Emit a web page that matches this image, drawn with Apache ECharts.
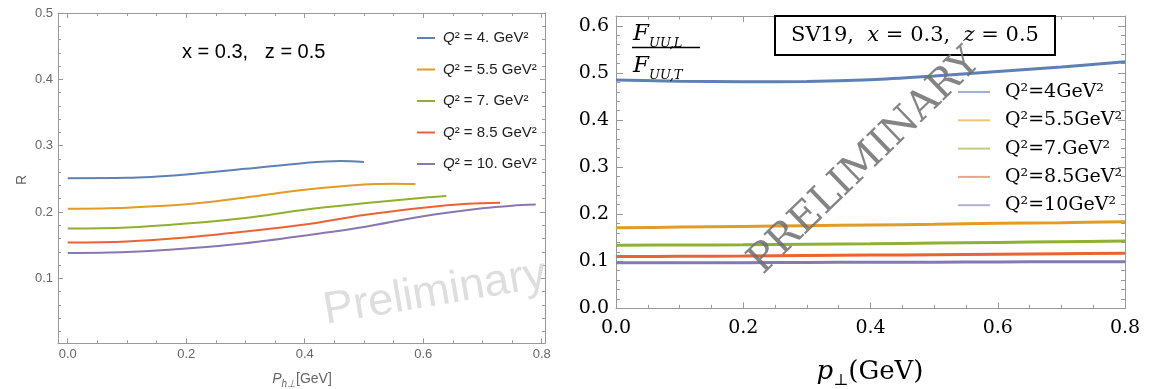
<!DOCTYPE html>
<html><head><meta charset="utf-8">
<script src="https://cdn.jsdelivr.net/npm/echarts@6/dist/echarts.min.js"></script>
<style>html,body{margin:0;padding:0;background:#fff}#c{width:1157px;height:389px}</style>
</head><body><div id="c"></div>
<script>
// ---------------- data ----------------
const seriesColors = ['#5E81B5', '#E19C24', '#8FB032', '#EB6235', '#8778B3'];

// Left panel: R vs P_h_perp
const leftNames = ['Q² = 4. GeV²', 'Q² = 5.5 GeV²', 'Q² = 7. GeV²', 'Q² = 8.5 GeV²', 'Q² = 10. GeV²'];
const leftQ4x  = [0, 0.1, 0.2, 0.3, 0.4, 0.46, 0.5];
const leftQ4y  = [0.251, 0.2515, 0.2565, 0.265, 0.274, 0.277, 0.2755];
const leftQ55x = [0, 0.1, 0.2, 0.3, 0.4, 0.5, 0.55, 0.587];
const leftQ55y = [0.205, 0.2065, 0.2115, 0.222, 0.2335, 0.2415, 0.2425, 0.242];
const leftQ7x  = [0, 0.1, 0.2, 0.3, 0.4, 0.5, 0.6, 0.639];
const leftQ7y  = [0.175, 0.1765, 0.1825, 0.191, 0.2035, 0.213, 0.2215, 0.224];
const leftQ85x = [0, 0.1, 0.2, 0.3, 0.4, 0.5, 0.6, 0.675, 0.73];
const leftQ85y = [0.154, 0.1555, 0.1615, 0.1705, 0.181, 0.1955, 0.2065, 0.2125, 0.214];
const leftQ10x = [0, 0.1, 0.2, 0.3, 0.4, 0.5, 0.6, 0.7, 0.75, 0.79];
const leftQ10y = [0.138, 0.1395, 0.145, 0.153, 0.1645, 0.1775, 0.1935, 0.2055, 0.2095, 0.2112];

// Right panel: F_UU,L / F_UU,T vs p_perp
const rightNames = ['Q²=4GeV²', 'Q²=5.5GeV²', 'Q²=7.GeV²', 'Q²=8.5GeV²', 'Q²=10GeV²'];
const rightX   = [0, 0.1, 0.2, 0.3, 0.4, 0.5, 0.6, 0.7, 0.8];
const rightQ4  = [0.485, 0.4825, 0.4815, 0.482, 0.4855, 0.4935, 0.503, 0.5125, 0.524];
const rightQ55 = [0.171, 0.1725, 0.174, 0.1755, 0.177, 0.1785, 0.1805, 0.182, 0.184];
const rightQ7  = [0.134, 0.1345, 0.135, 0.136, 0.137, 0.1385, 0.14, 0.1415, 0.143];
const rightQ85 = [0.110, 0.1105, 0.111, 0.112, 0.113, 0.114, 0.115, 0.116, 0.117];
const rightQ10 = [0.097, 0.097, 0.097, 0.0975, 0.098, 0.098, 0.0985, 0.099, 0.099];

// tick labels
const leftXTicks  = [0, 0.2, 0.4, 0.6, 0.8];
const leftYTicks  = [0.1, 0.2, 0.3, 0.4, 0.5];
const rightXTicks = [0, 0.2, 0.4, 0.6, 0.8];
const rightYTicks = [0, 0.1, 0.2, 0.3, 0.4, 0.5, 0.6];

// ---------------- build ----------------
function steps(lo, hi, step) {
  const out = [];
  const n = Math.round((hi - lo) / step);
  for (let i = 0; i <= n; i++) out.push(+(lo + i * step).toFixed(4));
  return out;
}
const zip = (xs, ys) => xs.map((x, i) => [x, ys[i]]);

function frameAxes(gridIndex, isX, min, max, major, minor, o) {
  const pos = isX ? ['bottom', 'top'] : ['left', 'right'];
  const base = {
    type: 'value', gridIndex, min, max, splitLine: { show: false }, scale: true,
  };
  const axes = [];
  pos.forEach((p, k) => {
    axes.push(Object.assign({}, base, {
      position: p,
      axisLine: { show: true, onZero: false, lineStyle: { color: o.lineColor, width: 1 } },
      axisTick: { show: true, inside: true, length: o.majorLen, customValues: major, lineStyle: { color: o.lineColor } },
      axisLabel: k === 0 ? Object.assign({ show: true, customValues: major, formatter: v => (+v).toFixed(1) }, o.label) : { show: false },
    }));
    axes.push(Object.assign({}, base, {
      position: p,
      axisLine: { show: false, onZero: false },
      axisTick: { show: true, inside: true, length: o.minorLen, customValues: minor, lineStyle: { color: o.lineColor } },
      axisLabel: { show: false },
    }));
  });
  return axes;
}

const leftLabel = { color: '#666', fontSize: 13, fontFamily: 'Liberation Sans' };
const rightLabel = { color: '#000', fontSize: 19, fontFamily: 'DejaVu Serif' };

const xAxes = [].concat(
  frameAxes(0, true, -0.0164, 0.8056, leftXTicks, steps(0, 0.8, 0.05), { lineColor: '#999', majorLen: 5, minorLen: 3, label: Object.assign({ margin: 5 }, leftLabel) }),
  frameAxes(1, true, 0, 0.8, rightXTicks, steps(0, 0.8, 0.05), { lineColor: '#999', majorLen: 6, minorLen: 3.5, label: Object.assign({ margin: 10 }, rightLabel) })
);
const yAxes = [].concat(
  frameAxes(0, false, 0.002, 0.5, leftYTicks, steps(0.02, 0.5, 0.02), { lineColor: '#999', majorLen: 5, minorLen: 3, label: Object.assign({ margin: 5 }, leftLabel) }),
  frameAxes(1, false, 0, 0.621, rightYTicks, steps(0, 0.62, 0.02), { lineColor: '#999', majorLen: 7, minorLen: 4, label: Object.assign({ margin: 7 }, rightLabel) })
);

const leftData = [zip(leftQ4x, leftQ4y), zip(leftQ55x, leftQ55y), zip(leftQ7x, leftQ7y), zip(leftQ85x, leftQ85y), zip(leftQ10x, leftQ10y)];
const rightData = [rightQ4, rightQ55, rightQ7, rightQ85, rightQ10].map(ys => zip(rightX, ys));

const series = [];
leftData.forEach((d, i) => series.push({
  name: leftNames[i], type: 'line', xAxisIndex: 0, yAxisIndex: 0, data: d,
  smooth: 0.35, showSymbol: false, symbol: 'none',
  lineStyle: { color: seriesColors[i], width: 2 }, itemStyle: { color: seriesColors[i] },
  animation: false, z: 3
}));
rightData.forEach((d, i) => series.push({
  name: rightNames[i], type: 'line', xAxisIndex: 4, yAxisIndex: 4, data: d,
  smooth: 0.35, showSymbol: false, symbol: 'none',
  lineStyle: { color: seriesColors[i], width: 3 }, itemStyle: { color: seriesColors[i] },
  animation: false, z: 3
}));

const option = {
  backgroundColor: '#fff',
  animation: false,
  grid: [
    { left: 58, top: 13, right: 612, bottom: 45.7, containLabel: false },
    { left: 616, top: 16, right: 32, bottom: 80.7, containLabel: false }
  ],
  xAxis: xAxes,
  yAxis: yAxes,
  legend: [
    {
      data: leftNames, orient: 'vertical', left: 412, top: 25, icon: 'rect',
      itemWidth: 18, itemHeight: 2, itemGap: 15.5,
      formatter: n => '{q|Q}{t|' + n.slice(1) + '}',
      textStyle: {
        color: '#222', fontFamily: 'Liberation Sans', fontSize: 15, lineHeight: 16, padding: [0, 0, 0, 3],
        rich: { q: { fontStyle: 'italic', fontSize: 15, fontFamily: 'Liberation Sans', color: '#222' },
                t: { fontSize: 15, fontFamily: 'Liberation Sans', color: '#222' } }
      }
    },
    {
      data: rightNames, orient: 'vertical', left: 953, top: 77, icon: 'rect',
      itemWidth: 32, itemHeight: 2, itemGap: 8.3, itemStyle: { opacity: 0.6 },
      textStyle: { color: '#000', fontFamily: 'DejaVu Serif', fontSize: 19, lineHeight: 20, padding: [0, 0, 0, 10] }
    }
  ],
  series,
  graphic: [
    { type: 'text', x: 182, y: 52, z: 10, style: { text: 'x = 0.3,   z = 0.5', fill: '#000', font: '20px "Liberation Sans"', textAlign: 'left', textVerticalAlign: 'middle' } },
    { type: 'text', x: 22, y: 180, rotation: Math.PI / 2, z: 10, style: { text: 'R', fill: '#666', font: '14px "Liberation Sans"', textAlign: 'center', textVerticalAlign: 'middle' } },
    { type: 'text', x: 302, y: 379, z: 10, style: {
      text: '{i|P}{s|h⊥}{n|[GeV]}', textAlign: 'center', textVerticalAlign: 'middle',
      rich: { i: { fontStyle: 'italic', fontSize: 14, fontFamily: 'Liberation Sans', fill: '#666', lineHeight: 20 },
              s: { fontStyle: 'italic', fontSize: 10, fontFamily: 'Liberation Sans', fill: '#666', verticalAlign: 'bottom', lineHeight: 20 },
              n: { fontSize: 14, fontFamily: 'Liberation Sans', fill: '#666', lineHeight: 20 } } } },
    { type: 'text', x: 435, y: 293, rotation: 9.5 * Math.PI / 180, z: 1, style: { text: 'Preliminary', fill: '#dedede', font: '45px "Liberation Sans"', textAlign: 'center', textVerticalAlign: 'middle' } },

    // right panel
    { type: 'text', x: 633, y: 34, z: 10, style: {
      text: '{f|F}{s|UU,L}', textAlign: 'left', textVerticalAlign: 'middle',
      rich: { f: { fontStyle: 'italic', fontSize: 23, fontFamily: 'DejaVu Serif', fill: '#000', lineHeight: 32 },
              s: { fontStyle: 'italic', fontSize: 13, fontFamily: 'DejaVu Serif', fill: '#000', verticalAlign: 'bottom', lineHeight: 32 } } } },
    { type: 'line', z: 10, shape: { x1: 632, y1: 47.5, x2: 700, y2: 47.5 }, style: { stroke: '#000', lineWidth: 1.5 } },
    { type: 'text', x: 633, y: 66, z: 10, style: {
      text: '{f|F}{s|UU,T}', textAlign: 'left', textVerticalAlign: 'middle',
      rich: { f: { fontStyle: 'italic', fontSize: 23, fontFamily: 'DejaVu Serif', fill: '#000', lineHeight: 32 },
              s: { fontStyle: 'italic', fontSize: 13, fontFamily: 'DejaVu Serif', fill: '#000', verticalAlign: 'bottom', lineHeight: 32 } } } },
    { type: 'rect', z: 10, shape: { x: 775, y: 16, width: 280, height: 39 }, style: { fill: '#fff', stroke: '#000', lineWidth: 2 } },
    { type: 'text', x: 915, y: 36, z: 11, style: {
      text: '{n|SV19,  }{i|x}{n| = 0.3,  }{i|z}{n| = 0.5}', textAlign: 'center', textVerticalAlign: 'middle',
      rich: { n: { fontSize: 21, fontFamily: 'DejaVu Serif', fill: '#000' },
              i: { fontSize: 21, fontStyle: 'italic', fontFamily: 'DejaVu Serif', fill: '#000' } } } },
    { type: 'text', x: 865, y: 162, rotation: 44 * Math.PI / 180, z: 20, style: { text: 'PRELIMINARY', fill: 'rgba(110,110,110,0.85)', font: '40px "DejaVu Serif"', textAlign: 'center', textVerticalAlign: 'middle' } },
    { type: 'text', x: 870, y: 372, z: 10, style: {
      text: '{i|p}{s|⊥}{n|(GeV)}', textAlign: 'center', textVerticalAlign: 'middle',
      rich: { i: { fontStyle: 'italic', fontSize: 26, fontFamily: 'DejaVu Serif', fill: '#000', lineHeight: 34 },
              s: { fontSize: 16, fontFamily: 'DejaVu Serif', fill: '#000', verticalAlign: 'bottom', lineHeight: 34 },
              n: { fontSize: 26, fontFamily: 'DejaVu Serif', fill: '#000', lineHeight: 34 } } } }
  ]
};

const chart = echarts.init(document.getElementById('c'), null, { renderer: 'canvas' });
chart.setOption(option);
</script>
</body></html>
